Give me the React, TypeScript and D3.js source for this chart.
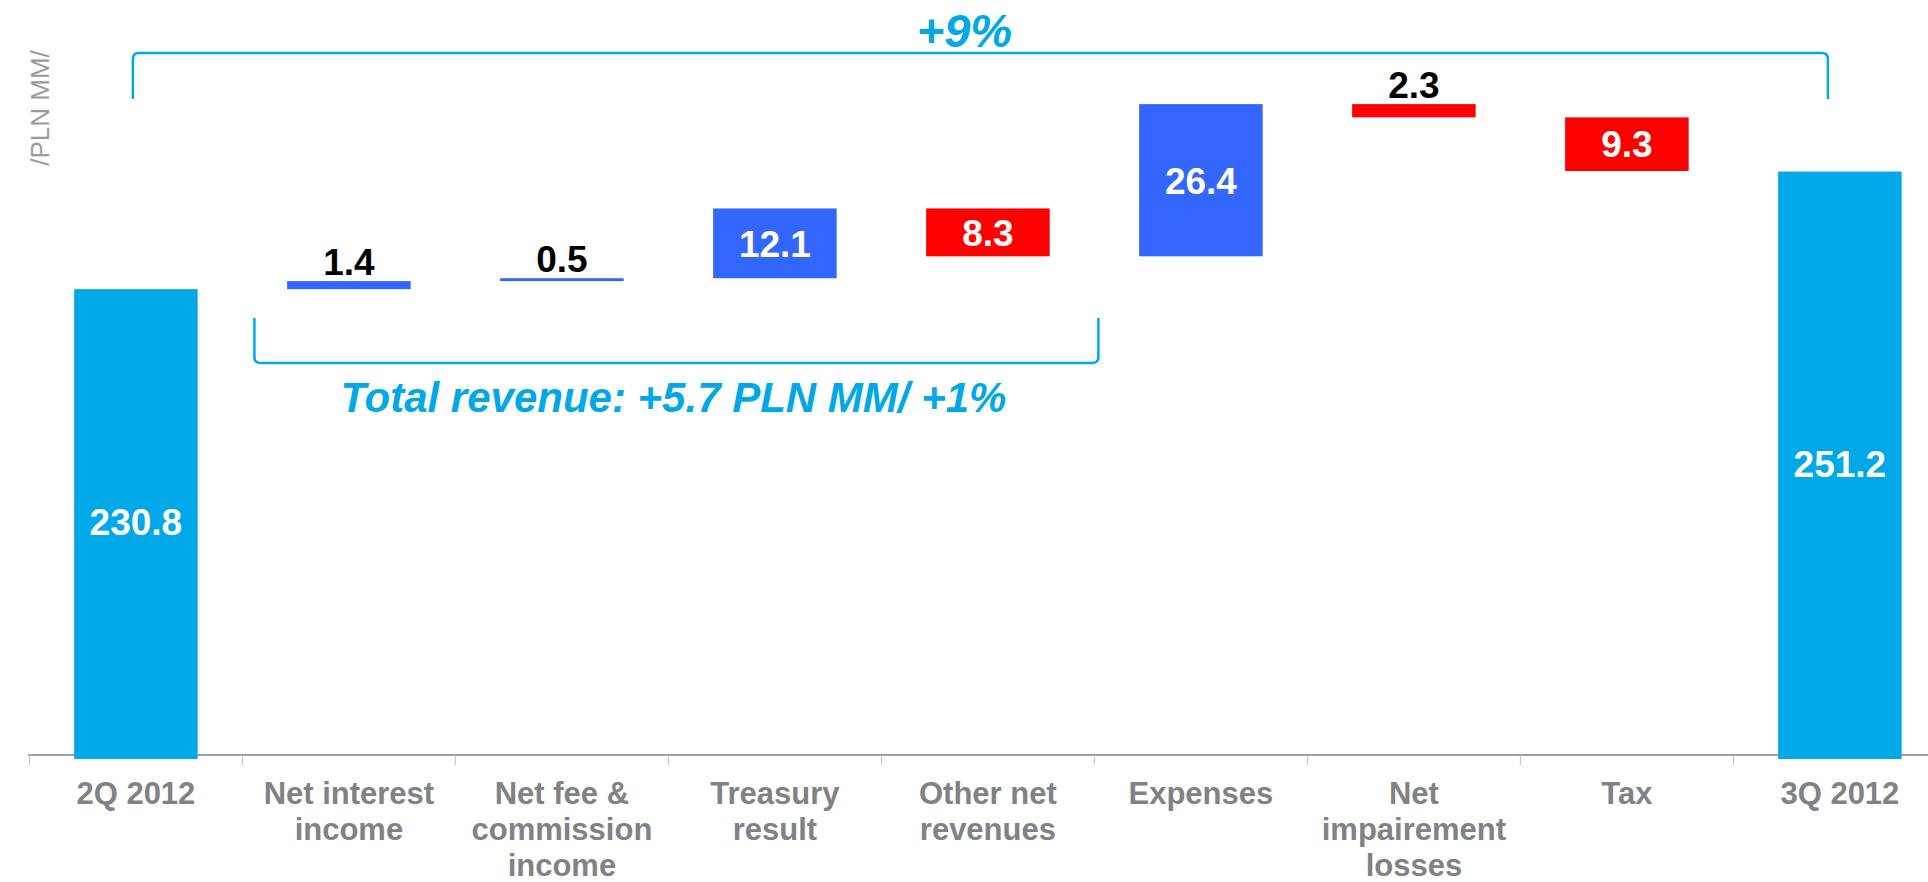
import React from 'react';
import * as d3 from 'd3';

// categories (label lines) and values
const categories = [
  '2Q 2012',
  'Net interest income',
  'Net fee & commission income',
  'Treasury result',
  'Other net revenues',
  'Expenses',
  'Net impairement losses',
  'Tax',
  '3Q 2012',
];
const labelLines = [
  ['2Q 2012'],
  ['Net interest', 'income'],
  ['Net fee &', 'commission', 'income'],
  ['Treasury', 'result'],
  ['Other net', 'revenues'],
  ['Expenses'],
  ['Net', 'impairement', 'losses'],
  ['Tax'],
  ['3Q 2012'],
];
const values = [230.8, 1.4, 0.5, 12.1, -8.3, 26.4, -2.3, -9.3, 251.2];
const isTotal = [true, false, false, false, false, false, false, false, true];
const yDomain = [150, 265];

const unitLabel = '/PLN MM/';
const topNote = '+9%';
const revenueNote = 'Total revenue: +5.7 PLN MM/ +1%';

const CYAN = '#00A8E8';
const BLUE = '#3366FF';
const RED = '#FF0000';
const GRAY = '#808285';
const FONT = 'Arial, "Liberation Sans", sans-serif';

export default function App() {
  const width = 1928,
    height = 882;

  const x = d3
    .scaleBand()
    .domain(categories)
    .range([29.4, 1946.4])
    .paddingInner(0.42)
    .paddingOuter(0.21);

  const y = d3.scaleLinear().domain(yDomain).range([755, 92]);

  // waterfall steps
  let running = 0;
  const bars = values.map((v, i) => {
    let lo, hi;
    if (isTotal[i]) {
      lo = yDomain[0];
      hi = v;
      running = v;
    } else {
      const start = running;
      running = start + v;
      lo = Math.min(start, running);
      hi = Math.max(start, running);
    }
    const color = isTotal[i] ? CYAN : v >= 0 ? BLUE : RED;
    return { cat: categories[i], v, lo, hi, color, total: isTotal[i] };
  });

  const step = x.step();
  const gap = step - x.bandwidth();
  const cx = (c) => x(c) + x.bandwidth() / 2;
  const base = y(yDomain[0]);

  // brackets
  const tL = cx(categories[0]) - 3;
  const tR = cx(categories[8]) - 12;
  const tY = 53,
    tBottom = 99;
  const bL = x(categories[1]) - gap / 2 + 12;
  const bR = x(categories[4]) + x.bandwidth() + gap / 2 + 4;
  const bTop = 318,
    bY = 363;
  const r = 6;

  return (
    <svg
      width={width}
      height={height}
      style={{ position: 'absolute', left: 0, top: 0, background: '#fff' }}
    >
      {/* unit label */}
      <text
        transform={`translate(49, 108) rotate(-90)`}
        textAnchor="middle"
        fill="#9A9A9A"
        style={{ fontFamily: FONT, fontSize: '26px' }}
      >
        {unitLabel}
      </text>

      {/* axis */}
      <line x1={28} x2={width} y1={base} y2={base} stroke="#808080" strokeWidth={1.5} />
      {categories.map((c, i) => (
        <line
          key={i}
          x1={x(c) - gap / 2}
          x2={x(c) - gap / 2}
          y1={base}
          y2={base + 10}
          stroke="#C0C0C0"
          strokeWidth={1}
        />
      ))}

      {/* bars */}
      {bars.map((d, i) => (
        <rect
          key={i}
          x={x(d.cat)}
          y={y(d.hi)}
          width={x.bandwidth()}
          height={y(d.lo) - y(d.hi) + (d.total ? 4 : 0)}
          fill={d.color}
        />
      ))}

      {/* value labels */}
      {bars.map((d, i) => {
        const h = y(d.lo) - y(d.hi);
        const inside = h > 40;
        return (
          <text
            key={i}
            x={cx(d.cat)}
            y={inside ? (y(d.lo) + y(d.hi)) / 2 : y(d.hi) - 6}
            dy={inside ? '0.36em' : 0}
            textAnchor="middle"
            fill={inside ? '#fff' : '#000'}
            style={{ fontFamily: FONT, fontSize: '37px', fontWeight: 'bold' }}
          >
            {Math.abs(d.v).toFixed(1)}
          </text>
        );
      })}

      {/* category labels */}
      {categories.map((c, i) => (
        <text
          key={i}
          textAnchor="middle"
          fill={GRAY}
          style={{ fontFamily: FONT, fontSize: '31px', fontWeight: 'bold' }}
        >
          {labelLines[i].map((l, j) => (
            <tspan key={j} x={cx(c)} y={804 + j * 36}>
              {l}
            </tspan>
          ))}
        </text>
      ))}

      {/* top bracket */}
      <path
        d={`M${tL},${tBottom} L${tL},${tY + r} Q${tL},${tY} ${tL + r},${tY} L${tR - r},${tY} Q${tR},${tY} ${tR},${tY + r} L${tR},${tBottom}`}
        fill="none"
        stroke={CYAN}
        strokeWidth={2.5}
      />
      <text
        x={(tL + tR) / 2 - 16}
        y={47}
        textAnchor="middle"
        fill={CYAN}
        style={{ fontFamily: FONT, fontSize: '47px', fontWeight: 'bold', fontStyle: 'italic' }}
      >
        {topNote}
      </text>

      {/* revenue bracket */}
      <path
        d={`M${bL},${bTop} L${bL},${bY - r} Q${bL},${bY} ${bL + r},${bY} L${bR - r},${bY} Q${bR},${bY} ${bR},${bY - r} L${bR},${bTop}`}
        fill="none"
        stroke={CYAN}
        strokeWidth={2.5}
      />
      <text
        x={(bL + bR) / 2 - 3}
        y={412}
        textAnchor="middle"
        fill={CYAN}
        style={{ fontFamily: FONT, fontSize: '42px', fontWeight: 'bold', fontStyle: 'italic' }}
      >
        {revenueNote}
      </text>
    </svg>
  );
}
